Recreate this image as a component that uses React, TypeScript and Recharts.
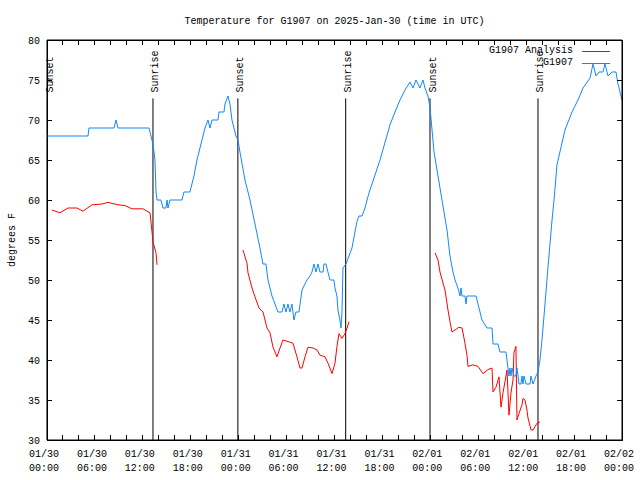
import React from 'react';
import { LineChart, Line, XAxis, YAxis, ReferenceLine, ReferenceArea, Legend } from 'recharts';

// Observed G1907 temperatures (hours since 01/30 00:00 UTC, degrees F)
const obsHours = [
  0.0, 5.13, 5.26, 8.39, 8.64, 8.89, 12.77, 13.02, 13.27, 13.52, 13.65, 13.77, 14.27, 14.52, 14.9, 15.03,
  15.15, 15.4, 16.9, 17.15, 17.9, 18.4, 18.78, 19.28, 19.78, 20.16, 20.41, 20.66, 21.41, 21.54, 22.16, 22.29,
  22.66, 22.91, 23.16, 23.66, 23.91, 24.16, 24.79, 25.42, 26.04, 26.67, 27.04, 27.42, 27.67, 28.17, 28.92, 29.42,
  29.67, 29.92, 30.17, 30.42, 30.67, 30.92, 31.17, 31.55, 31.93, 32.3, 32.55, 32.93, 33.18, 33.43, 33.68, 33.93,
  34.18, 34.56, 34.68, 34.93, 35.18, 35.43, 35.93, 36.06, 36.31, 36.43, 36.68, 36.81, 36.94, 37.06, 37.44, 37.81,
  38.19, 38.56, 38.81, 39.06, 39.44, 39.82, 40.07, 40.44, 41.7, 42.95, 43.57, 44.2, 44.83, 45.45, 45.83, 46.2,
  46.7, 47.08, 47.33, 47.7, 47.96, 48.46, 48.96, 49.46, 50.09, 50.46, 50.84, 51.09, 51.46, 51.71, 51.84, 51.97,
  52.34, 52.47, 52.59, 53.72, 53.97, 54.22, 54.47, 55.09, 55.72, 55.85, 56.47, 56.72, 57.47, 57.6, 57.72, 57.85,
  57.97, 58.1, 58.22, 58.47, 58.72, 58.85, 58.98, 59.1, 59.35, 59.48, 59.6, 59.73, 59.98, 60.48, 60.6, 60.85,
  61.23, 61.48, 61.73, 61.98, 62.36, 62.74, 63.24, 63.49, 63.86, 64.86, 65.74, 66.49, 67.12, 68.0, 68.37, 68.75,
  69.12, 69.62, 69.87, 70.25, 70.75, 71.25, 71.5, 72.0,
];
const obsTemps = [
  68, 68, 69, 69, 70, 69, 69, 68, 67, 65, 61, 60, 60, 59, 59, 60,
  59, 60, 60, 61, 61, 63, 65, 67, 69, 70, 69, 70, 70, 71, 71, 72,
  73, 72, 70, 68, 67.5, 66, 62.5, 60, 57, 54, 52, 52, 50, 48, 46, 46,
  47, 46, 47, 46, 47, 45, 46, 46, 48.75, 49.5, 50, 50.5, 51, 52, 51, 52,
  51, 51, 52, 52, 51, 50, 50, 49, 48, 46.25, 45, 44, 46, 51.5, 52, 53,
  54, 56, 57.3, 58, 58, 59, 60, 61.25, 65, 69.4, 71, 72.5, 73.75, 74.75, 74, 75,
  74, 75, 74, 73, 71.6, 66, 63, 60, 56.25, 53, 51, 50, 49, 48, 49, 48,
  48, 47, 48, 48, 47, 46, 45, 44, 44, 42, 42, 41, 41, 40, 39, 38,
  39, 38, 39, 38, 38, 39, 38, 37, 37, 38, 37, 38, 37, 37, 38, 37,
  38, 38.5, 40, 42.5, 47, 51.7, 57.5, 60, 64.4, 68.75, 71, 72.5, 74, 75.25, 77, 75.5,
  76, 76, 77, 75.5, 76, 76, 74.5, 72.5,
];

// G1907 Analysis (null = gap between segments)
const anaHours = [
  0.63, 1.63, 2.63, 3.76, 4.51, 5.63, 6.89, 7.64, 8.89, 9.77, 10.64, 12.02, 12.52, 12.9, 13.15, 13.27, 13.65, 13.77,
  19.0,
  24.54, 25.04, 25.17, 25.67, 26.04, 26.55, 27.05, 27.55, 27.92, 28.3, 28.8, 29.18, 29.55, 30.18, 30.8, 31.3,
  31.68, 31.93, 32.31, 32.68, 33.31, 33.81, 34.19, 34.81, 35.19, 35.69, 36.06, 36.31, 36.56, 36.94, 37.31, 37.57, 37.82,
  43.0,
  48.59, 48.96, 49.21, 49.59, 49.84, 50.21, 50.46, 50.71, 51.09, 51.59, 51.97, 52.34, 52.59, 52.72, 53.34, 53.97,
  54.6, 55.22, 55.72, 55.85, 56.22, 56.6, 56.85, 57.1, 57.35, 57.6, 57.85, 58.1, 58.35, 58.47, 58.72, 58.85,
  59.1, 59.48, 59.6, 59.85, 60.1, 60.23, 60.61, 60.86, 61.36, 61.73,
];
const anaTemps: (number | null)[] = [
  58.75, 58.4, 59, 59, 58.6, 59.4, 59.5, 59.7, 59.4, 59.3, 58.9, 58.9, 58.6, 58.4, 56, 54.75, 53.4, 51.9,
  null,
  53.75, 52.1, 50.9, 49, 47.9, 46.5, 46, 44, 43.4, 41.6, 40.4, 41.5, 42.5, 42.3, 42.1, 40.4,
  39, 39, 40.4, 41.6, 41.5, 41.25, 40.6, 40.4, 39.6, 38.3, 39.6, 41.7, 43.3, 42.7, 43.3, 44, 44.8,
  null,
  53.4, 52.5, 51, 49.6, 48.75, 46.25, 44.8, 43.5, 43.75, 44.1, 44, 42.1, 40.6, 39.2, 39.4, 39.2,
  38.3, 38.8, 39, 36, 36.6, 37.9, 34.1, 35.9, 37.3, 38.75, 33.1, 35.9, 37.5, 40.9, 41.7, 32.5,
  33.3, 34.4, 35.2, 35, 33.75, 32.75, 31.25, 31.25, 32.1, 32.25,
];

const sunHours = [0.05, 13.27, 23.9, 37.4, 47.96, 61.48];
const sunLabels = ['Sunset', 'Sunrise', 'Sunset', 'Sunrise', 'Sunset', 'Sunrise'];

const xTicks = [0, 2, 4, 6, 8, 10, 12, 14, 16, 18, 20, 22, 24, 26, 28, 30, 32, 34, 36, 38, 40, 42, 44, 46, 48, 50, 52, 54, 56, 58, 60, 62, 64, 66, 68, 70, 72];
const tickDates = ['01/30', '01/30', '01/30', '01/30', '01/31', '01/31', '01/31', '01/31', '02/01', '02/01', '02/01', '02/01', '02/02'];
const tickTimes = ['00:00', '06:00', '12:00', '18:00', '00:00', '06:00', '12:00', '18:00', '00:00', '06:00', '12:00', '18:00', '00:00'];
const yTicks = [30, 35, 40, 45, 50, 55, 60, 65, 70, 75, 80];

const TITLE = 'Temperature for G1907 on 2025-Jan-30 (time in UTC)';
const Y_LABEL = 'degrees F';
const OBS_NAME = 'G1907';
const ANA_NAME = 'G1907 Analysis';

const MONO = '"Liberation Mono", "DejaVu Sans Mono", monospace';
const BLUE = '#1188ff';
const RED = '#ff0000';
const TICK_LEN = 5;

const obsData = obsHours.map((h, i) => ({ h, t: obsTemps[i] }));
const anaData = anaHours.map((h, i) => ({ h, t: anaTemps[i] }));

const XTickBottom = (props: any) => {
  const { x, y, payload } = props;
  const v = payload.value;
  const major = v % 6 === 0;
  const i = v / 6;
  return (
    <g>
      <line x1={x} y1={y} x2={x} y2={y - TICK_LEN} stroke="#000" strokeWidth={1} shapeRendering="crispEdges" />
      {major && (
        <>
          <text x={x - 3} y={y + 17} textAnchor="middle" fontFamily={MONO} fontSize={10} fill="#000">{tickDates[i]}</text>
          <text x={x - 3} y={y + 31} textAnchor="middle" fontFamily={MONO} fontSize={10} fill="#000">{tickTimes[i]}</text>
        </>
      )}
    </g>
  );
};

const XTickTop = (props: any) => {
  const { x, y } = props;
  return <line x1={x} y1={y} x2={x} y2={y + TICK_LEN} stroke="#000" strokeWidth={1} shapeRendering="crispEdges" />;
};

const YTickLeft = (props: any) => {
  const { x, y, payload } = props;
  return (
    <g>
      <line x1={x} y1={y} x2={x + TICK_LEN} y2={y} stroke="#000" strokeWidth={1} shapeRendering="crispEdges" />
      <text x={x - 7} y={y + 3.5} textAnchor="end" fontFamily={MONO} fontSize={10} fill="#000">{payload.value}</text>
    </g>
  );
};

const YTickRight = (props: any) => {
  const { x, y } = props;
  return <line x1={x} y1={y} x2={x - TICK_LEN} y2={y} stroke="#000" strokeWidth={1} shapeRendering="crispEdges" />;
};

const TitleLabel = (props: any) => {
  const vb = props.viewBox || {};
  const cx = vb.x + vb.width / 2;
  return <text x={cx} y={24} textAnchor="middle" fontFamily={MONO} fontSize={10} fill="#000">{TITLE}</text>;
};

const YLabel = (props: any) => {
  const vb = props.viewBox || {};
  const x = vb.x + 8;
  const y = vb.y + vb.height / 2;
  return (
    <text x={x} y={y} transform={`rotate(-90 ${x} ${y})`} textAnchor="middle" fontFamily={MONO} fontSize={10} fill="#000">{Y_LABEL}</text>
  );
};

const makeSunLabel = (text: string) => (props: any) => {
  const vb = props.viewBox || {};
  const x = vb.x + 5.5;
  const y = vb.y - 6;
  return (
    <text x={x} y={y} transform={`rotate(-90 ${x} ${y})`} textAnchor="start" fontFamily={MONO} fontSize={10} fill="#000">{text}</text>
  );
};

const LegendContent = () => {
  const items = [
    { name: ANA_NAME, color: RED },
    { name: OBS_NAME, color: BLUE },
  ];
  return (
    <div style={{ fontFamily: MONO, fontSize: 10, color: '#000' }}>
      {items.map((it) => (
        <div key={it.name} style={{ display: 'flex', justifyContent: 'flex-end', alignItems: 'center', height: 12, lineHeight: '12px' }}>
          <span style={{ whiteSpace: 'pre' }}>{it.name}</span>
          <span style={{ display: 'inline-block', width: 28, height: 0, borderTop: `1px solid ${it.color}`, marginLeft: 9 }} />
        </div>
      ))}
    </div>
  );
};

export default function App() {
  return (
    <div style={{ position: 'absolute', left: 0, top: 0, width: 640, height: 480, background: '#fff' }}>
      <LineChart width={640} height={480} data={obsData} margin={{ top: 39, right: 17, bottom: 10, left: 7 }}>
        <XAxis
          dataKey="h"
          type="number"
          domain={[0, 72]}
          ticks={xTicks}
          interval={0}
          height={30}
          tickSize={0}
          tickMargin={0}
          tick={XTickBottom}
          tickLine={false}
          axisLine={{ stroke: '#000' }}
          allowDataOverflow
        />
        <XAxis
          xAxisId="top"
          orientation="top"
          dataKey="h"
          type="number"
          domain={[0, 72]}
          ticks={xTicks}
          interval={0}
          height={1}
          tickSize={0}
          tickMargin={0}
          tick={XTickTop}
          tickLine={false}
          axisLine={{ stroke: '#000' }}
          label={{ content: TitleLabel }}
          allowDataOverflow
        />
        <YAxis
          type="number"
          domain={[30, 80]}
          ticks={yTicks}
          interval={0}
          width={40}
          tickSize={0}
          tickMargin={0}
          tick={YTickLeft}
          tickLine={false}
          axisLine={{ stroke: '#000' }}
          label={{ content: YLabel }}
          allowDataOverflow
        />
        <YAxis
          yAxisId="right"
          orientation="right"
          type="number"
          domain={[30, 80]}
          ticks={yTicks}
          interval={0}
          width={1}
          tickSize={0}
          tickMargin={0}
          tick={YTickRight}
          tickLine={false}
          axisLine={{ stroke: '#000' }}
          allowDataOverflow
        />
        <ReferenceArea x1={0} x2={72} y1={30} y2={80} fill="none" stroke="#000" strokeWidth={1} ifOverflow="visible" shapeRendering="crispEdges" />
        {sunHours.map((h, i) => (
          <ReferenceLine
            key={'sun' + i}
            segment={[{ x: h, y: 30 }, { x: h, y: 72.7 }]}
            stroke="#000"
            strokeWidth={1}
            ifOverflow="visible"
            label={makeSunLabel(sunLabels[i])}
          />
        ))}
        <Line
          data={anaData}
          dataKey="t"
          name={ANA_NAME}
          type="linear"
          stroke={RED}
          strokeWidth={1}
          dot={false}
          activeDot={false}
          connectNulls={false}
          isAnimationActive={false}
        />
        <Line
          data={obsData}
          dataKey="t"
          name={OBS_NAME}
          type="linear"
          stroke={BLUE}
          strokeWidth={1}
          dot={false}
          activeDot={false}
          isAnimationActive={false}
        />
        <Legend
          layout="vertical"
          align="center"
          verticalAlign="middle"
          content={LegendContent}
          wrapperStyle={{ position: 'absolute', top: 45, left: 440, width: 170, height: 24 }}
        />
      </LineChart>
    </div>
  );
}
